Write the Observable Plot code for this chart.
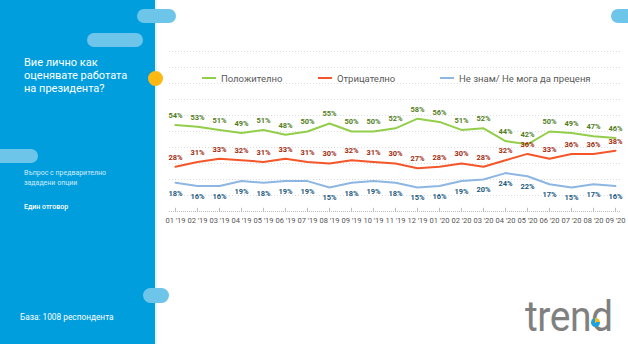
<!DOCTYPE html>
<html>
<head>
<meta charset="utf-8">
<script src="https://cdn.jsdelivr.net/npm/d3@7"></script>
<script src="https://cdn.jsdelivr.net/npm/@observablehq/plot@0.6"></script>
<style>
  html, body { margin: 0; padding: 0; }
  body { width: 628px; height: 344px; overflow: hidden; font-family: Roboto, "Noto Sans", sans-serif; }
  #wrap { position: relative; width: 628px; height: 344px; background: #fff; overflow: hidden; }
  #wrap svg { position: absolute; left: 0; top: 0; }
  .abs { position: absolute; }
  .pill { position: absolute; background: #6EC5EA; border-radius: 8px; }
  .leg { position: absolute; top: 73px; height: 12px; line-height: 12px; font-size: 9.5px; color: #595959; white-space: nowrap; }
  .sw { display: inline-block; width: 14px; height: 2px; vertical-align: middle; margin-right: 5px; position: relative; top: -1px; }
</style>
</head>
<body>
<div id="wrap">
  <div class="abs" style="left:0;top:0;width:155px;height:344px;background:#009EDD;"></div>
  <div class="abs" style="left:155px;top:0;width:2px;height:344px;background:#E3F3FB;"></div>
</div>
<script>
const months = ["01 '19","02 '19","03 '19","04 '19","05 '19","06 '19","07 '19","08 '19","09 '19","10 '19","11 '19","12 '19",
                "01 '20","02 '20","03 '20","04 '20","05 '20","06 '20","07 '20","08 '20","09 '20"];
const positive = [54,53,51,49,51,48,50,55,50,50,52,58,56,51,52,44,42,50,49,47,46];
const negative = [28,31,33,32,31,33,31,30,32,31,30,27,28,30,28,32,36,33,36,36,38];
const dontKnow = [18,16,16,19,18,19,19,15,18,19,18,15,16,19,20,24,22,17,15,17,16];
const seriesNames = ["Положително", "Отрицателно", "Не знам/ Не мога да преценя"];
const lineColors = ["#92CE4A", "#F4562A", "#8DB6E3"];
const labelColors = ["#537E1E", "#A02E12", "#1D5A80"];
const gridTicks = [10,20,30,40,50,60,70,80,90,100];

const seriesValues = [positive, negative, dontKnow];
const rows = seriesValues.map((vals, s) => vals.map((v, i) => ({series: seriesNames[s], month: months[i], value: v})));

const marks = [
  Plot.ruleY(gridTicks, {stroke: "#DCDCDC", strokeDasharray: "1,2"}),
  Plot.ruleY([0], {stroke: "#BDBDBD", strokeDasharray: "1,1"}),
  Plot.ruleX(months, {x: d => d, y1: 0, y2: 2, stroke: "#BDBDBD"})
];
rows.forEach((r, s) => {
  marks.push(Plot.line(r, {x: "month", y: "value", stroke: lineColors[s], strokeWidth: 2}));
  marks.push(Plot.text(r, {x: "month", y: "value", text: d => d.value + "%", dy: s === 2 ? 10.5 : -9.5,
    fill: labelColors[s], fontSize: 7.5, fontWeight: "bold"}));
});

const chart = Plot.plot({
  width: 628, height: 344,
  marginLeft: 169, marginRight: 7, marginTop: 51, marginBottom: 133,
  style: {background: "transparent", fontFamily: "Roboto, sans-serif", fontSize: "7.5px", color: "#555555"},
  x: {type: "point", domain: months, padding: 0, label: null, tickSize: 0, tickPadding: 6},
  y: {domain: [0, 100], axis: null},
  marks
});
const wrap = document.getElementById("wrap");
wrap.appendChild(chart);

function add(html) { wrap.insertAdjacentHTML("beforeend", html); }
// decorative pills and dot
add('<div class="pill" style="left:137px;top:9px;width:39px;height:14px;"></div>');
add('<div class="pill" style="left:87px;top:33px;width:56px;height:14px;"></div>');
add('<div class="pill" style="left:-10px;top:149px;width:48px;height:14px;"></div>');
add('<div class="pill" style="left:143px;top:288px;width:26px;height:15px;"></div>');
add('<div class="pill" style="left:611px;top:9px;width:30px;height:14px;"></div>');
add('<div class="abs" style="left:148px;top:71px;width:15px;height:15px;border-radius:50%;background:#FDB813;"></div>');

// left panel text
add('<div class="abs" style="left:24px;top:56px;width:125px;font-size:11px;line-height:13px;color:#fff;">Вие лично как<br>оценявате работата<br>на президента?</div>');
add('<div class="abs" style="left:24px;top:168px;width:125px;font-size:7px;line-height:10px;color:#D2ECF9;">Въпрос с предварително<br>зададени опции</div>');
add('<div class="abs" style="left:24px;top:202px;font-size:7px;line-height:10px;color:#fff;font-weight:500;">Един отговор</div>');
add('<div class="abs" style="left:20px;top:311px;font-size:8.3px;line-height:12px;color:#fff;">База: 1008 респондента</div>');

// legend
const legX = [202, 318, 440];
seriesNames.forEach((n, i) => {
  add(`<div class="leg" style="left:${legX[i]}px;"><span class="sw" style="background:${lineColors[i]}"></span>${n}</div>`);
});

// logo
add('<div class="abs" style="left:525px;top:296px;font-size:42px;line-height:42px;color:#808080;letter-spacing:-0.5px;transform:scaleX(0.93);transform-origin:left top;white-space:nowrap;">trend</div>');
add('<div class="abs" style="left:591px;top:318px;width:9px;height:9px;border-radius:50%;background:conic-gradient(#FDB813 0 25%, #1AA3E0 25% 100%);"></div>');
</script>
</body>
</html>
